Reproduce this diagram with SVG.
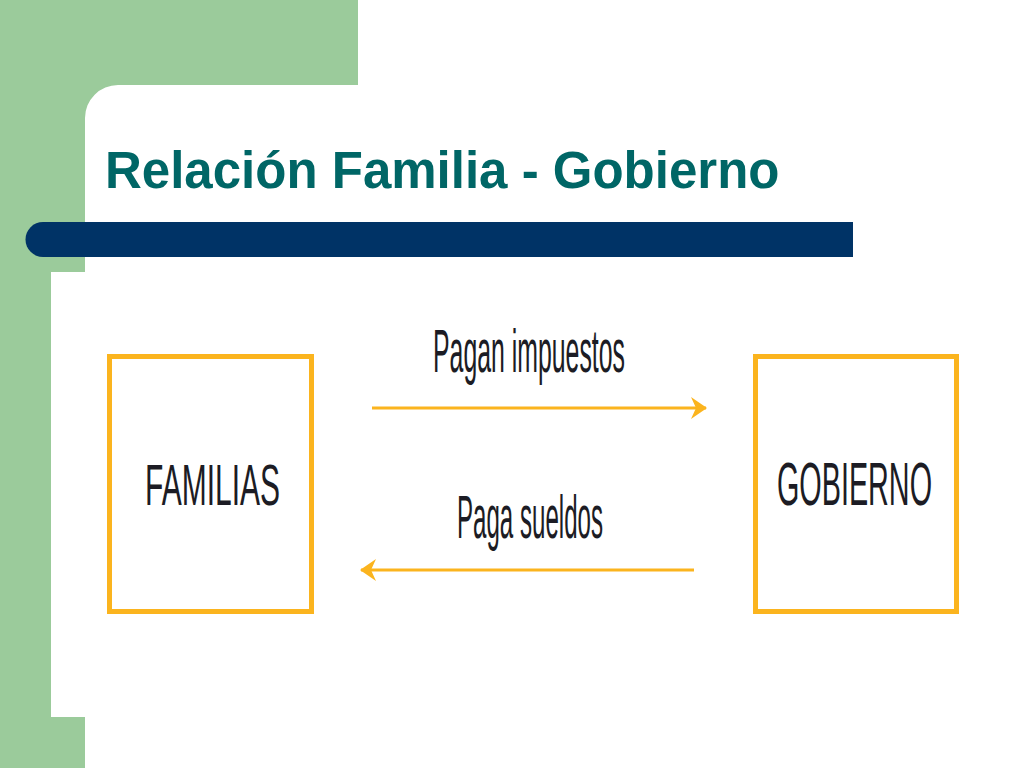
<svg xmlns="http://www.w3.org/2000/svg" width="1024" height="768" viewBox="0 0 1024 768">
  <style>
    .box { fill: #ffffff; stroke: #FBB41E; stroke-width: 5; }
    .lbl { font-family: "Liberation Sans", Arial, sans-serif; fill: #1c1c24; }
    .conn { stroke: #FBB41E; stroke-width: 3; fill: none; }
  </style>
  <defs>
    <marker id="arrow" viewBox="0 0 16 22" refX="15" refY="11" markerWidth="16" markerHeight="22" markerUnits="userSpaceOnUse" orient="auto">
      <path d="M0,0 L16,11 L0,22 L5,11 Z" fill="#FBB41E"/>
    </marker>
  </defs>

  <rect x="0" y="0" width="1024" height="768" fill="#ffffff"/>
  <g id="background">
    <path d="M0,0 H358 V85 H118 A33,33 0 0 0 85,118 V272 H51 V717 H85 V768 H0 Z" fill="#9BCB9B"/>
    <path d="M853,222 H43 A17.5,17.5 0 0 0 43,257 H853 Z" fill="#003366"/>
  </g>

  <g id="title">
    <text x="105" y="188" font-family="Liberation Sans, Arial, sans-serif" font-weight="bold" font-size="51" fill="#006666">Relación Familia - Gobierno</text>
  </g>

  <g id="familias">
    <rect class="box" x="109.5" y="356.5" width="202" height="255"/>
    <text class="lbl" transform="translate(145,505) scale(0.5,1)" x="0" y="0" font-size="58" textLength="270" lengthAdjust="spacingAndGlyphs">FAMILIAS</text>
  </g>

  <g id="gobierno">
    <rect class="box" x="755.5" y="356.5" width="201" height="255"/>
    <text class="lbl" transform="translate(777,505) scale(0.5,1)" x="0" y="0" font-size="61" textLength="310" lengthAdjust="spacingAndGlyphs">GOBIERNO</text>
  </g>

  <g id="connectors">
    <line class="conn" x1="372" y1="408" x2="706" y2="408" marker-end="url(#arrow)"/>
    <text class="lbl" transform="translate(433,372) scale(0.4,1)" x="0" y="0" font-size="62" textLength="480" lengthAdjust="spacingAndGlyphs">Pagan impuestos</text>
    <line class="conn" x1="694" y1="570" x2="361" y2="570" marker-end="url(#arrow)"/>
    <text class="lbl" transform="translate(457,538) scale(0.4,1)" x="0" y="0" font-size="62" textLength="365" lengthAdjust="spacingAndGlyphs">Paga sueldos</text>
  </g>
</svg>
